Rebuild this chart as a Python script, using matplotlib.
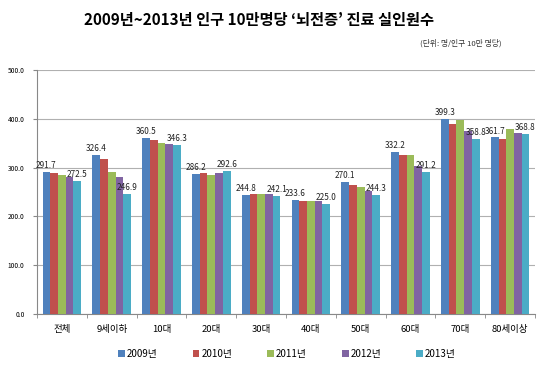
import numpy as np
import matplotlib
matplotlib.use("Agg")
import matplotlib.pyplot as plt
from matplotlib.patches import Patch

plt.rcParams['font.family'] = ['Noto Sans CJK KR', 'DejaVu Sans']

categories = ['전체', '9세이하', '10대', '20대', '30대', '40대', '50대', '60대', '70대', '80세이상']
years = ['2009년', '2010년', '2011년', '2012년', '2013년']
colors = ['#4F81BD', '#C0504D', '#9BBB59', '#8064A2', '#4BACC6']

v2009 = [291.7, 326.4, 360.5, 286.2, 244.8, 233.6, 270.1, 332.2, 399.3, 361.7]
v2010 = [289.5, 317.0, 356.5, 289.5, 246.0, 232.0, 264.0, 325.0, 389.0, 358.0]
v2011 = [285.5, 290.0, 350.5, 285.5, 245.0, 231.0, 260.0, 325.0, 397.5, 378.5]
v2012 = [280.0, 280.0, 347.5, 289.5, 245.5, 231.0, 252.0, 304.0, 376.0, 370.0]
v2013 = [272.5, 246.9, 346.3, 292.6, 242.1, 225.0, 244.3, 291.2, 358.8, 368.8]
series = [v2009, v2010, v2011, v2012, v2013]

fig = plt.figure(figsize=(5.53, 3.71), dpi=100)
ax = fig.add_axes([37 / 553, 57 / 371, 498 / 553, 244 / 371])

x = np.arange(len(categories))
bw = 0.155
for i, vals in enumerate(series):
    pos = x + (i - 2) * bw
    ax.bar(pos, vals, width=bw, color=colors[i], zorder=3)
    if i in (0, 4):
        for px, v in zip(pos, vals):
            ax.text(px, v + 4, f'{v:.1f}', ha='center', va='bottom',
                    fontsize=5.9, color='#222222', zorder=4)

ax.set_ylim(0, 500)
ax.set_xlim(-0.5, len(categories) - 0.5)
ax.set_yticks(np.arange(0, 501, 100))
ax.set_yticklabels([f'{t:.1f}' for t in np.arange(0, 501, 100)], fontsize=4.8)
ax.yaxis.grid(True, color='#B0B0B0', linewidth=0.8, zorder=0)
ax.set_xticks(x)
ax.set_xticklabels(categories, fontsize=6.8)
ax.set_xticks(np.arange(-0.5, len(categories)), minor=True)
ax.tick_params(axis='x', which='major', length=0, pad=8)
ax.tick_params(axis='x', which='minor', length=3, color='#888888')
ax.tick_params(axis='y', length=3, color='#888888', pad=6)
for side in ('top', 'right'):
    ax.spines[side].set_visible(False)
for side in ('left', 'bottom'):
    ax.spines[side].set_color('#888888')
    ax.spines[side].set_linewidth(0.8)

fig.text(259 / 553, 1 - 20 / 371, '2009년~2013년 인구 10만명당 ‘뇌전증’ 진료 실인원수',
         ha='center', va='center', fontsize=11, fontweight='bold')
fig.text(502 / 553, 1 - 43 / 371, '(단위: 명/인구 10만 명당)',
         ha='right', va='center', fontsize=5.6, color='#333333')

handles = [Patch(facecolor=c, edgecolor='none') for c in colors]
fig.legend(handles, years, loc='center', bbox_to_anchor=(287 / 553, 1 - 354 / 371),
           ncol=5, frameon=False, fontsize=7, handlelength=0.7, handleheight=0.7,
           handletextpad=0.2, columnspacing=3.6)

fig.savefig('out.png', dpi=100)
